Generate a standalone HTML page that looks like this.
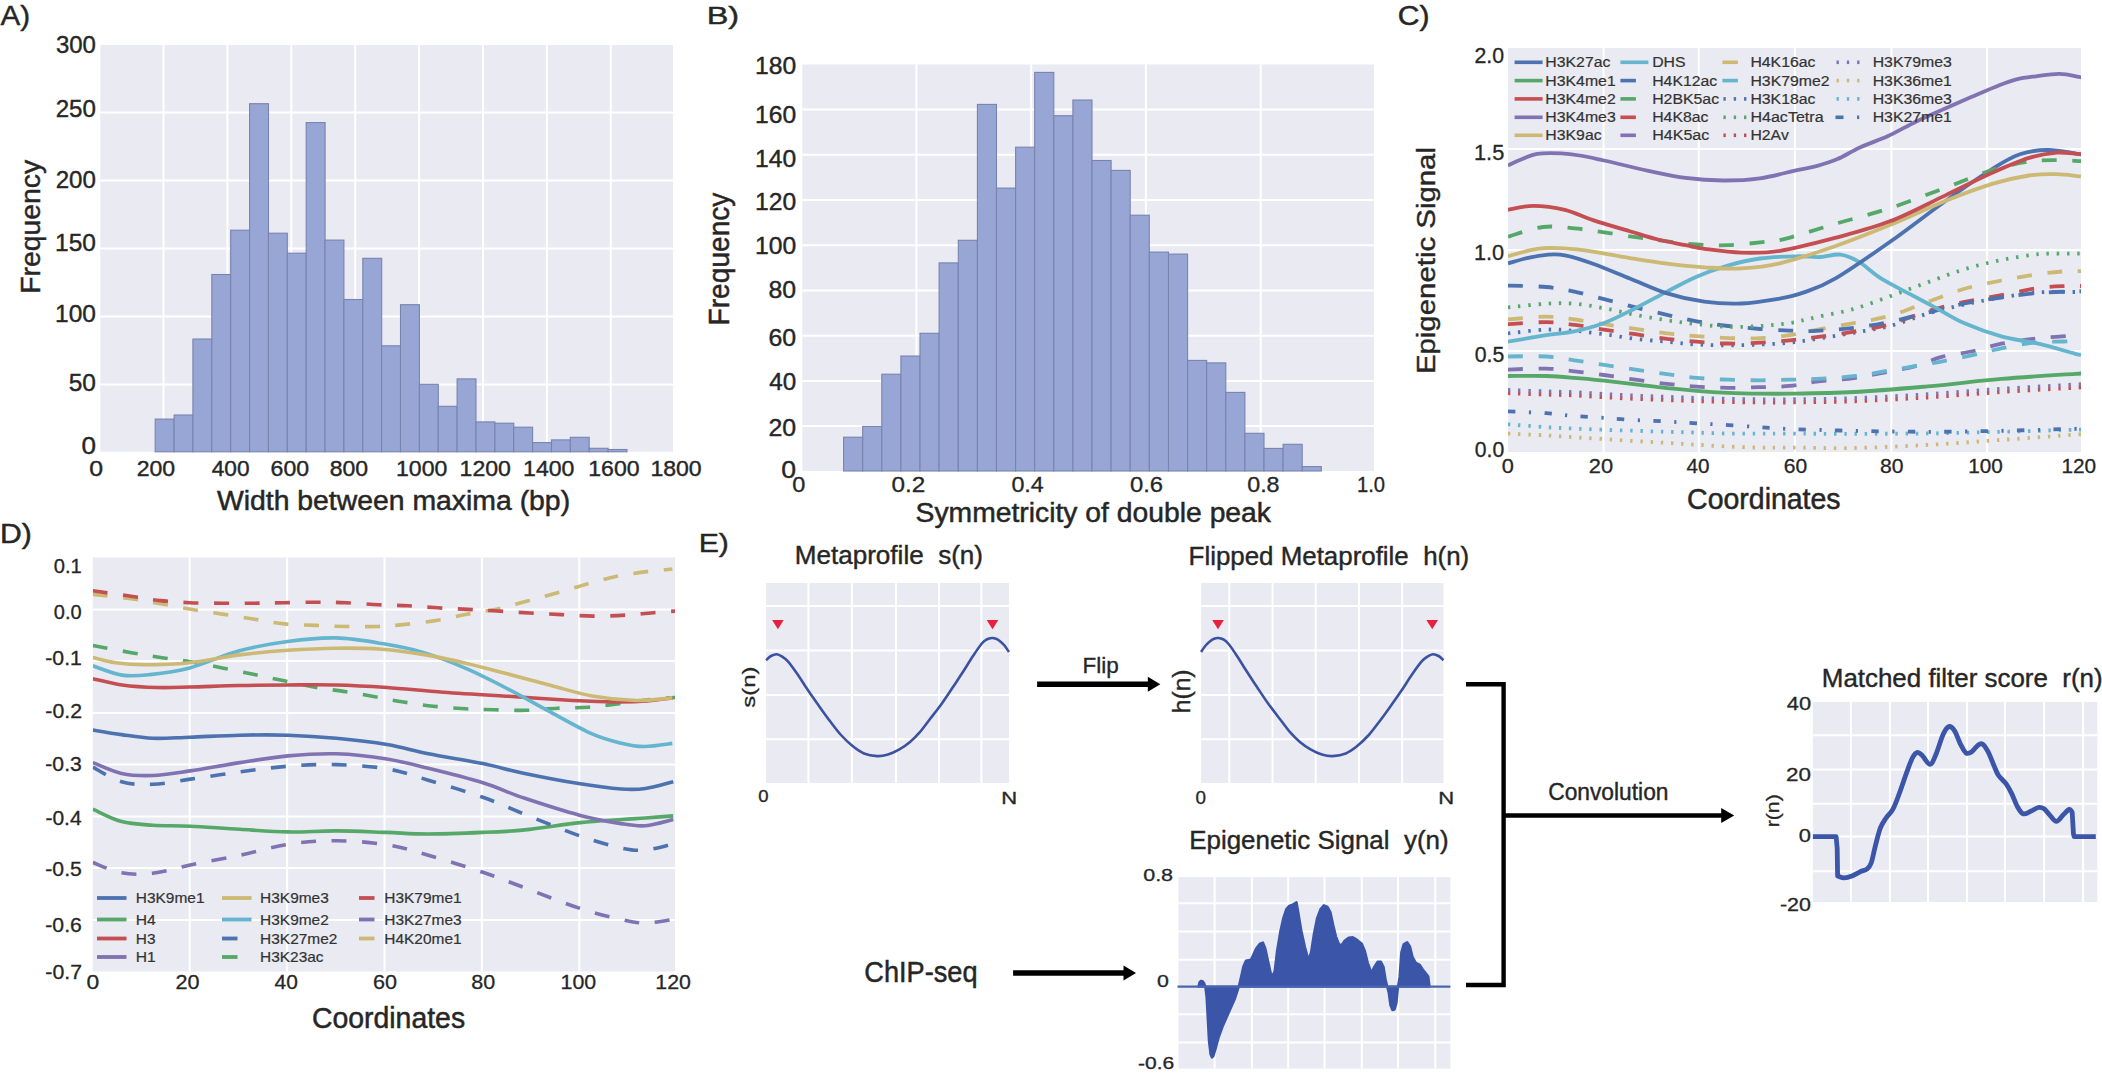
<!DOCTYPE html>
<html><head><meta charset="utf-8"><title>Figure</title>
<style>html,body{margin:0;padding:0;background:#fff;}svg{display:block;}</style>
</head><body>
<svg width="2102" height="1077" viewBox="0 0 2102 1077" font-family="'Liberation Sans', Arial, sans-serif">
<rect width="2102" height="1077" fill="#fff"/>
<defs><clipPath id="clipC"><rect x="1508" y="48" width="573" height="404"/></clipPath><clipPath id="clipD"><rect x="92.8" y="557.5" width="582.2" height="414"/></clipPath></defs>
<rect x="100.3" y="45" width="572.7" height="406.8" fill="#EAEAF2"/>
<line x1="163.5" y1="45" x2="163.5" y2="451.8" stroke="#fff" stroke-width="2"/>
<line x1="227.4" y1="45" x2="227.4" y2="451.8" stroke="#fff" stroke-width="2"/>
<line x1="291.3" y1="45" x2="291.3" y2="451.8" stroke="#fff" stroke-width="2"/>
<line x1="355.2" y1="45" x2="355.2" y2="451.8" stroke="#fff" stroke-width="2"/>
<line x1="419.1" y1="45" x2="419.1" y2="451.8" stroke="#fff" stroke-width="2"/>
<line x1="483" y1="45" x2="483" y2="451.8" stroke="#fff" stroke-width="2"/>
<line x1="546.9" y1="45" x2="546.9" y2="451.8" stroke="#fff" stroke-width="2"/>
<line x1="610.8" y1="45" x2="610.8" y2="451.8" stroke="#fff" stroke-width="2"/>
<line x1="100.3" y1="384.4" x2="673" y2="384.4" stroke="#fff" stroke-width="2"/>
<line x1="100.3" y1="316.4" x2="673" y2="316.4" stroke="#fff" stroke-width="2"/>
<line x1="100.3" y1="248.4" x2="673" y2="248.4" stroke="#fff" stroke-width="2"/>
<line x1="100.3" y1="180.4" x2="673" y2="180.4" stroke="#fff" stroke-width="2"/>
<line x1="100.3" y1="112.4" x2="673" y2="112.4" stroke="#fff" stroke-width="2"/>
<rect x="155.2" y="419.1" width="18.9" height="32.7" fill="#98A6D6" stroke="#7884AE" stroke-width="1.1"/>
<rect x="174.1" y="415" width="18.9" height="36.8" fill="#98A6D6" stroke="#7884AE" stroke-width="1.1"/>
<rect x="192.9" y="339" width="18.9" height="112.8" fill="#98A6D6" stroke="#7884AE" stroke-width="1.1"/>
<rect x="211.8" y="274.5" width="18.9" height="177.3" fill="#98A6D6" stroke="#7884AE" stroke-width="1.1"/>
<rect x="230.7" y="230.2" width="18.9" height="221.6" fill="#98A6D6" stroke="#7884AE" stroke-width="1.1"/>
<rect x="249.6" y="103.7" width="18.9" height="348.1" fill="#98A6D6" stroke="#7884AE" stroke-width="1.1"/>
<rect x="268.4" y="233.2" width="18.9" height="218.6" fill="#98A6D6" stroke="#7884AE" stroke-width="1.1"/>
<rect x="287.3" y="253.2" width="18.9" height="198.6" fill="#98A6D6" stroke="#7884AE" stroke-width="1.1"/>
<rect x="306.2" y="122.6" width="18.9" height="329.2" fill="#98A6D6" stroke="#7884AE" stroke-width="1.1"/>
<rect x="325" y="240.1" width="18.9" height="211.7" fill="#98A6D6" stroke="#7884AE" stroke-width="1.1"/>
<rect x="343.9" y="299.5" width="18.9" height="152.3" fill="#98A6D6" stroke="#7884AE" stroke-width="1.1"/>
<rect x="362.8" y="258.3" width="18.9" height="193.5" fill="#98A6D6" stroke="#7884AE" stroke-width="1.1"/>
<rect x="381.6" y="345.8" width="18.9" height="106" fill="#98A6D6" stroke="#7884AE" stroke-width="1.1"/>
<rect x="400.5" y="304.7" width="18.9" height="147.1" fill="#98A6D6" stroke="#7884AE" stroke-width="1.1"/>
<rect x="419.4" y="384.3" width="18.9" height="67.5" fill="#98A6D6" stroke="#7884AE" stroke-width="1.1"/>
<rect x="438.2" y="406.3" width="18.9" height="45.5" fill="#98A6D6" stroke="#7884AE" stroke-width="1.1"/>
<rect x="457.1" y="378.9" width="18.9" height="72.9" fill="#98A6D6" stroke="#7884AE" stroke-width="1.1"/>
<rect x="476" y="421.9" width="18.9" height="29.9" fill="#98A6D6" stroke="#7884AE" stroke-width="1.1"/>
<rect x="494.9" y="423.2" width="18.9" height="28.6" fill="#98A6D6" stroke="#7884AE" stroke-width="1.1"/>
<rect x="513.7" y="427.2" width="18.9" height="24.6" fill="#98A6D6" stroke="#7884AE" stroke-width="1.1"/>
<rect x="532.6" y="442.6" width="18.9" height="9.2" fill="#98A6D6" stroke="#7884AE" stroke-width="1.1"/>
<rect x="551.5" y="439.9" width="18.9" height="11.9" fill="#98A6D6" stroke="#7884AE" stroke-width="1.1"/>
<rect x="570.3" y="437.3" width="18.9" height="14.5" fill="#98A6D6" stroke="#7884AE" stroke-width="1.1"/>
<rect x="589.2" y="448.3" width="18.9" height="3.5" fill="#98A6D6" stroke="#7884AE" stroke-width="1.1"/>
<rect x="608.1" y="449.5" width="18.9" height="2.3" fill="#98A6D6" stroke="#7884AE" stroke-width="1.1"/>
<text x="0.6" y="24.9" font-size="28" fill="#262626" stroke="#262626" stroke-width="0.4" textLength="29.6" lengthAdjust="spacingAndGlyphs" xml:space="preserve">A)</text>
<text x="55.9" y="53.4" font-size="24.5" fill="#262626" stroke="#262626" stroke-width="0.4" textLength="40" lengthAdjust="spacingAndGlyphs" xml:space="preserve">300</text>
<text x="55.7" y="116.8" font-size="24.5" fill="#262626" stroke="#262626" stroke-width="0.4" textLength="40.2" lengthAdjust="spacingAndGlyphs" xml:space="preserve">250</text>
<text x="55.7" y="187.7" font-size="24.5" fill="#262626" stroke="#262626" stroke-width="0.4" textLength="40.2" lengthAdjust="spacingAndGlyphs" xml:space="preserve">200</text>
<text x="55.1" y="251.2" font-size="24.5" fill="#262626" stroke="#262626" stroke-width="0.4" textLength="40.9" lengthAdjust="spacingAndGlyphs" xml:space="preserve">150</text>
<text x="55.1" y="321.5" font-size="24.5" fill="#262626" stroke="#262626" stroke-width="0.4" textLength="40.9" lengthAdjust="spacingAndGlyphs" xml:space="preserve">100</text>
<text x="68.7" y="390.5" font-size="24.5" fill="#262626" stroke="#262626" stroke-width="0.4" textLength="27.2" lengthAdjust="spacingAndGlyphs" xml:space="preserve">50</text>
<text x="81.5" y="453.7" font-size="24.5" fill="#262626" stroke="#262626" stroke-width="0.4" textLength="14.5" lengthAdjust="spacingAndGlyphs" xml:space="preserve">0</text>
<text x="89.3" y="476" font-size="22.4" fill="#262626" stroke="#262626" stroke-width="0.4" textLength="13.8" lengthAdjust="spacingAndGlyphs" xml:space="preserve">0</text>
<text x="136.7" y="476" font-size="22.4" fill="#262626" stroke="#262626" stroke-width="0.4" textLength="38.5" lengthAdjust="spacingAndGlyphs" xml:space="preserve">200</text>
<text x="211.7" y="476" font-size="22.4" fill="#262626" stroke="#262626" stroke-width="0.4" textLength="37.8" lengthAdjust="spacingAndGlyphs" xml:space="preserve">400</text>
<text x="270.6" y="476" font-size="22.4" fill="#262626" stroke="#262626" stroke-width="0.4" textLength="38.5" lengthAdjust="spacingAndGlyphs" xml:space="preserve">600</text>
<text x="329.7" y="476" font-size="22.4" fill="#262626" stroke="#262626" stroke-width="0.4" textLength="38.4" lengthAdjust="spacingAndGlyphs" xml:space="preserve">800</text>
<text x="396" y="476" font-size="22.4" fill="#262626" stroke="#262626" stroke-width="0.4" textLength="51.3" lengthAdjust="spacingAndGlyphs" xml:space="preserve">1000</text>
<text x="459.6" y="476" font-size="22.4" fill="#262626" stroke="#262626" stroke-width="0.4" textLength="51.3" lengthAdjust="spacingAndGlyphs" xml:space="preserve">1200</text>
<text x="523.1" y="476" font-size="22.4" fill="#262626" stroke="#262626" stroke-width="0.4" textLength="51.3" lengthAdjust="spacingAndGlyphs" xml:space="preserve">1400</text>
<text x="588.3" y="476" font-size="22.4" fill="#262626" stroke="#262626" stroke-width="0.4" textLength="51.3" lengthAdjust="spacingAndGlyphs" xml:space="preserve">1600</text>
<text x="650.4" y="476" font-size="22.4" fill="#262626" stroke="#262626" stroke-width="0.4" textLength="51.3" lengthAdjust="spacingAndGlyphs" xml:space="preserve">1800</text>
<text x="216.9" y="510.2" font-size="28.2" fill="#262626" stroke="#262626" stroke-width="0.5" textLength="353.2" lengthAdjust="spacingAndGlyphs" xml:space="preserve">Width between maxima (bp)</text>
<text x="39.7" y="293.8" font-size="27.8" fill="#262626" stroke="#262626" stroke-width="0.4" textLength="134" lengthAdjust="spacingAndGlyphs" transform="rotate(-90 39.7 293.8)" xml:space="preserve">Frequency</text>
<rect x="802.3" y="64.5" width="571.7" height="406.5" fill="#EAEAF2"/>
<line x1="916.4" y1="64.5" x2="916.4" y2="471" stroke="#fff" stroke-width="2"/>
<line x1="1031.2" y1="64.5" x2="1031.2" y2="471" stroke="#fff" stroke-width="2"/>
<line x1="1145.9" y1="64.5" x2="1145.9" y2="471" stroke="#fff" stroke-width="2"/>
<line x1="1260.7" y1="64.5" x2="1260.7" y2="471" stroke="#fff" stroke-width="2"/>
<line x1="802.3" y1="426.1" x2="1374" y2="426.1" stroke="#fff" stroke-width="2"/>
<line x1="802.3" y1="380.9" x2="1374" y2="380.9" stroke="#fff" stroke-width="2"/>
<line x1="802.3" y1="335.7" x2="1374" y2="335.7" stroke="#fff" stroke-width="2"/>
<line x1="802.3" y1="290.5" x2="1374" y2="290.5" stroke="#fff" stroke-width="2"/>
<line x1="802.3" y1="245.3" x2="1374" y2="245.3" stroke="#fff" stroke-width="2"/>
<line x1="802.3" y1="200" x2="1374" y2="200" stroke="#fff" stroke-width="2"/>
<line x1="802.3" y1="154.8" x2="1374" y2="154.8" stroke="#fff" stroke-width="2"/>
<line x1="802.3" y1="109.6" x2="1374" y2="109.6" stroke="#fff" stroke-width="2"/>
<rect x="843.6" y="437.2" width="19.1" height="33.8" fill="#98A6D6" stroke="#7884AE" stroke-width="1.1"/>
<rect x="862.7" y="426.4" width="19.1" height="44.6" fill="#98A6D6" stroke="#7884AE" stroke-width="1.1"/>
<rect x="881.8" y="374.2" width="19.1" height="96.8" fill="#98A6D6" stroke="#7884AE" stroke-width="1.1"/>
<rect x="900.9" y="356" width="19.1" height="115" fill="#98A6D6" stroke="#7884AE" stroke-width="1.1"/>
<rect x="920" y="333.3" width="19.1" height="137.7" fill="#98A6D6" stroke="#7884AE" stroke-width="1.1"/>
<rect x="939.1" y="262.9" width="19.1" height="208.1" fill="#98A6D6" stroke="#7884AE" stroke-width="1.1"/>
<rect x="958.3" y="240.3" width="19.1" height="230.7" fill="#98A6D6" stroke="#7884AE" stroke-width="1.1"/>
<rect x="977.4" y="104.4" width="19.1" height="366.6" fill="#98A6D6" stroke="#7884AE" stroke-width="1.1"/>
<rect x="996.5" y="188.1" width="19.1" height="282.9" fill="#98A6D6" stroke="#7884AE" stroke-width="1.1"/>
<rect x="1015.6" y="147.2" width="19.1" height="323.8" fill="#98A6D6" stroke="#7884AE" stroke-width="1.1"/>
<rect x="1034.7" y="72.4" width="19.1" height="398.6" fill="#98A6D6" stroke="#7884AE" stroke-width="1.1"/>
<rect x="1053.8" y="115.7" width="19.1" height="355.3" fill="#98A6D6" stroke="#7884AE" stroke-width="1.1"/>
<rect x="1072.9" y="100" width="19.1" height="371" fill="#98A6D6" stroke="#7884AE" stroke-width="1.1"/>
<rect x="1092" y="160.5" width="19.1" height="310.5" fill="#98A6D6" stroke="#7884AE" stroke-width="1.1"/>
<rect x="1111.1" y="170.4" width="19.1" height="300.6" fill="#98A6D6" stroke="#7884AE" stroke-width="1.1"/>
<rect x="1130.2" y="215.2" width="19.1" height="255.8" fill="#98A6D6" stroke="#7884AE" stroke-width="1.1"/>
<rect x="1149.4" y="252.1" width="19.1" height="218.9" fill="#98A6D6" stroke="#7884AE" stroke-width="1.1"/>
<rect x="1168.5" y="254.1" width="19.1" height="216.9" fill="#98A6D6" stroke="#7884AE" stroke-width="1.1"/>
<rect x="1187.6" y="360.4" width="19.1" height="110.6" fill="#98A6D6" stroke="#7884AE" stroke-width="1.1"/>
<rect x="1206.7" y="362.9" width="19.1" height="108.1" fill="#98A6D6" stroke="#7884AE" stroke-width="1.1"/>
<rect x="1225.8" y="392.4" width="19.1" height="78.6" fill="#98A6D6" stroke="#7884AE" stroke-width="1.1"/>
<rect x="1244.9" y="433.3" width="19.1" height="37.7" fill="#98A6D6" stroke="#7884AE" stroke-width="1.1"/>
<rect x="1264" y="448.4" width="19.1" height="22.6" fill="#98A6D6" stroke="#7884AE" stroke-width="1.1"/>
<rect x="1283.1" y="444.3" width="19.1" height="26.7" fill="#98A6D6" stroke="#7884AE" stroke-width="1.1"/>
<rect x="1302.2" y="466.6" width="19.1" height="4.4" fill="#98A6D6" stroke="#7884AE" stroke-width="1.1"/>
<text x="706.7" y="23.8" font-size="24.8" fill="#262626" stroke="#262626" stroke-width="0.4" textLength="32.5" lengthAdjust="spacingAndGlyphs" xml:space="preserve">B)</text>
<text x="755.1" y="74.1" font-size="23" fill="#262626" stroke="#262626" stroke-width="0.4" textLength="41.1" lengthAdjust="spacingAndGlyphs" xml:space="preserve">180</text>
<text x="755.1" y="122.8" font-size="23" fill="#262626" stroke="#262626" stroke-width="0.4" textLength="41.1" lengthAdjust="spacingAndGlyphs" xml:space="preserve">160</text>
<text x="755.1" y="166.9" font-size="23" fill="#262626" stroke="#262626" stroke-width="0.4" textLength="41.1" lengthAdjust="spacingAndGlyphs" xml:space="preserve">140</text>
<text x="755.1" y="209.9" font-size="23" fill="#262626" stroke="#262626" stroke-width="0.4" textLength="41.1" lengthAdjust="spacingAndGlyphs" xml:space="preserve">120</text>
<text x="755.1" y="254.4" font-size="23" fill="#262626" stroke="#262626" stroke-width="0.4" textLength="41.1" lengthAdjust="spacingAndGlyphs" xml:space="preserve">100</text>
<text x="768.5" y="297.9" font-size="23" fill="#262626" stroke="#262626" stroke-width="0.4" textLength="27.6" lengthAdjust="spacingAndGlyphs" xml:space="preserve">80</text>
<text x="768.4" y="346.4" font-size="23" fill="#262626" stroke="#262626" stroke-width="0.4" textLength="27.7" lengthAdjust="spacingAndGlyphs" xml:space="preserve">60</text>
<text x="769.2" y="389.5" font-size="23" fill="#262626" stroke="#262626" stroke-width="0.4" textLength="26.9" lengthAdjust="spacingAndGlyphs" xml:space="preserve">40</text>
<text x="768.4" y="436.4" font-size="23" fill="#262626" stroke="#262626" stroke-width="0.4" textLength="27.7" lengthAdjust="spacingAndGlyphs" xml:space="preserve">20</text>
<text x="781.3" y="477.8" font-size="23" fill="#262626" stroke="#262626" stroke-width="0.4" textLength="14.8" lengthAdjust="spacingAndGlyphs" xml:space="preserve">0</text>
<text x="792.3" y="492.4" font-size="21.7" fill="#262626" stroke="#262626" stroke-width="0.3" textLength="13.1" lengthAdjust="spacingAndGlyphs" xml:space="preserve">0</text>
<text x="891.6" y="492.4" font-size="21.7" fill="#262626" stroke="#262626" stroke-width="0.3" textLength="33.8" lengthAdjust="spacingAndGlyphs" xml:space="preserve">0.2</text>
<text x="1011.4" y="492.4" font-size="21.7" fill="#262626" stroke="#262626" stroke-width="0.3" textLength="32.4" lengthAdjust="spacingAndGlyphs" xml:space="preserve">0.4</text>
<text x="1130" y="492.4" font-size="21.7" fill="#262626" stroke="#262626" stroke-width="0.3" textLength="33.1" lengthAdjust="spacingAndGlyphs" xml:space="preserve">0.6</text>
<text x="1247.2" y="492.4" font-size="21.7" fill="#262626" stroke="#262626" stroke-width="0.3" textLength="32.4" lengthAdjust="spacingAndGlyphs" xml:space="preserve">0.8</text>
<text x="1357" y="492.4" font-size="21.7" fill="#262626" stroke="#262626" stroke-width="0.3" textLength="28.1" lengthAdjust="spacingAndGlyphs" xml:space="preserve">1.0</text>
<text x="915.6" y="521.5" font-size="28.4" fill="#262626" stroke="#262626" stroke-width="0.5" textLength="355.4" lengthAdjust="spacingAndGlyphs" xml:space="preserve">Symmetricity of double peak</text>
<text x="728.9" y="325.4" font-size="28.6" fill="#262626" stroke="#262626" stroke-width="0.5" textLength="132.8" lengthAdjust="spacingAndGlyphs" transform="rotate(-90 728.9 325.4)" xml:space="preserve">Frequency</text>
<rect x="1508" y="48" width="573" height="404" fill="#EAEAF2"/>
<line x1="1603.6" y1="48" x2="1603.6" y2="452" stroke="#fff" stroke-width="2"/>
<line x1="1698.8" y1="48" x2="1698.8" y2="452" stroke="#fff" stroke-width="2"/>
<line x1="1794.9" y1="48" x2="1794.9" y2="452" stroke="#fff" stroke-width="2"/>
<line x1="1891.4" y1="48" x2="1891.4" y2="452" stroke="#fff" stroke-width="2"/>
<line x1="1987.1" y1="48" x2="1987.1" y2="452" stroke="#fff" stroke-width="2"/>
<line x1="1508" y1="351" x2="2081" y2="351" stroke="#fff" stroke-width="2"/>
<line x1="1508" y1="250" x2="2081" y2="250" stroke="#fff" stroke-width="2"/>
<line x1="1508" y1="149" x2="2081" y2="149" stroke="#fff" stroke-width="2"/>
<g clip-path="url(#clipC)">
<path d="M1508,433.6 C1514.4,433.9 1535.1,434.8 1546.2,435.4 C1557.3,436 1564.7,436.6 1574.4,437.3 C1584,437.9 1593.8,438.4 1604,439.1 C1614.2,439.7 1625,440.5 1635.5,441.1 C1646,441.7 1656.8,442.3 1667,442.9 C1677.2,443.5 1686.4,444.1 1696.6,444.7 C1706.8,445.3 1717.5,446.1 1728.1,446.5 C1738.7,447 1749.9,447.4 1760.1,447.6 C1770.4,447.7 1774.1,447.5 1789.7,447.6 C1805.3,447.6 1830.7,448.4 1853.7,448 C1876.7,447.5 1903.1,446.3 1927.7,444.9 C1952.3,443.6 1976.7,441.6 2001.3,439.9 C2025.8,438.2 2062,435.5 2075.3,434.6 C2088.6,433.7 2080,434.5 2081,434.4" fill="none" stroke="#CCB974" stroke-width="3.8" stroke-dasharray="2.4 7.8"/>
<path d="M1508,424.3 C1514.4,424.8 1535.1,426.4 1546.2,427.2 C1557.3,427.9 1564.7,428.1 1574.4,428.6 C1584,429 1593.8,429.4 1604,429.8 C1614.2,430.2 1625,430.5 1635.5,430.8 C1646,431.1 1656.8,431.5 1667,431.8 C1677.2,432.1 1686.4,432.3 1696.6,432.6 C1706.8,432.9 1717.5,433.4 1728.1,433.6 C1738.7,433.8 1749.9,433.6 1760.1,433.6 C1770.4,433.6 1774.1,433.6 1789.7,433.6 C1805.3,433.7 1830.7,433.9 1853.7,433.8 C1876.7,433.8 1903.1,433.8 1927.7,433.4 C1952.3,433.1 1976.7,432.4 2001.3,431.8 C2025.8,431.2 2062,430.1 2075.3,429.8 C2088.6,429.4 2080,429.8 2081,429.8" fill="none" stroke="#64B5CD" stroke-width="3.8" stroke-dasharray="2.4 7.8"/>
<path d="M1508,411.4 C1514.4,411.7 1535.1,412.4 1546.2,413.2 C1557.3,414 1564.7,415.3 1574.4,416 C1584,416.8 1593.8,417.2 1604,417.9 C1614.2,418.5 1625,419.5 1635.5,420.1 C1646,420.7 1656.8,421 1667,421.5 C1677.2,422 1686.4,422.7 1696.6,423.3 C1706.8,423.9 1717.5,424.5 1728.1,425.1 C1738.7,425.8 1749.9,426.5 1760.1,427.2 C1770.4,427.8 1774.1,428.4 1789.7,429 C1805.3,429.6 1830.7,430.3 1853.7,430.8 C1876.7,431.3 1903.1,431.8 1927.7,431.8 C1952.3,431.8 1976.7,431.3 2001.3,430.8 C2025.8,430.3 2062,429.1 2075.3,428.8 C2088.6,428.4 2080,428.6 2081,428.6" fill="none" stroke="#4C72B0" stroke-width="3.8" stroke-dasharray="7.4 13.5 2.2 13.3"/>
<path d="M1508,393.2 C1514.4,393.5 1535.1,394.3 1546.2,394.6 C1557.3,395 1564.7,395 1574.4,395.4 C1584,395.9 1593.8,396.7 1604,397.3 C1614.2,397.8 1625,398.4 1635.5,398.9 C1646,399.3 1656.8,399.7 1667,400.1 C1677.2,400.5 1686.4,400.8 1696.6,401.1 C1706.8,401.4 1717.5,401.9 1728.1,402.1 C1738.7,402.3 1749.9,402.4 1760.1,402.5 C1770.4,402.6 1774.1,402.7 1789.7,402.5 C1805.3,402.3 1830.7,402.1 1853.7,401.3 C1876.7,400.5 1903.1,399 1927.7,397.5 C1952.3,395.9 1976.7,393.6 2001.3,392 C2025.8,390.4 2062,388.5 2075.3,387.8 C2088.6,387 2080,387.6 2081,387.6" fill="none" stroke="#C44E52" stroke-width="3.8" stroke-dasharray="2.4 7.8"/>
<path d="M1508,390 C1514.4,390.2 1535.1,391 1546.2,391.4 C1557.3,391.8 1564.7,391.8 1574.4,392.2 C1584,392.6 1593.8,393.5 1604,394 C1614.2,394.6 1625,395.2 1635.5,395.6 C1646,396.1 1656.8,396.5 1667,396.9 C1677.2,397.2 1686.4,397.5 1696.6,397.9 C1706.8,398.2 1717.5,398.6 1728.1,398.9 C1738.7,399.1 1749.9,399.2 1760.1,399.3 C1770.4,399.3 1774.1,399.5 1789.7,399.3 C1805.3,399.1 1830.7,398.9 1853.7,398.1 C1876.7,397.2 1903.1,395.8 1927.7,394.2 C1952.3,392.7 1976.7,390.4 2001.3,388.8 C2025.8,387.2 2062,385.3 2075.3,384.5 C2088.6,383.8 2080,384.4 2081,384.3" fill="none" stroke="#8172B2" stroke-width="3.8" stroke-dasharray="2.4 7.8"/>
<path d="M1508,376 C1514.4,376 1535.1,375.7 1546.2,376 C1557.3,376.4 1564.7,377.1 1574.4,377.9 C1584,378.6 1593.8,379.6 1604,380.7 C1614.2,381.8 1625,383.1 1635.5,384.3 C1646,385.6 1656.8,387.1 1667,388.2 C1677.2,389.2 1686.4,390 1696.6,390.8 C1706.8,391.6 1717.5,392.3 1728.1,392.8 C1738.7,393.3 1749.9,393.5 1760.1,393.6 C1770.4,393.8 1774.1,393.9 1789.7,393.6 C1805.3,393.4 1830.7,393.2 1853.7,392 C1876.7,390.8 1903.1,388.5 1927.7,386.4 C1952.3,384.2 1976.7,381 2001.3,378.9 C2025.8,376.8 2062,374.7 2075.3,373.8 C2088.6,373 2080,373.7 2081,373.6" fill="none" stroke="#55A868" stroke-width="3.8"/>
<path d="M1508,369.6 C1514.4,369.4 1535.1,368.3 1546.2,368.6 C1557.3,368.9 1564.7,370.3 1574.4,371.4 C1584,372.5 1593.8,373.7 1604,375 C1614.2,376.4 1625,378.2 1635.5,379.7 C1646,381.2 1656.8,382.8 1667,383.9 C1677.2,385.1 1686.4,385.9 1696.6,386.6 C1706.8,387.2 1717.5,387.7 1728.1,387.8 C1738.7,387.9 1749.9,387.5 1760.1,387.2 C1770.4,386.9 1780.3,386.9 1789.7,385.9 C1799.1,385 1805.8,383 1816.5,381.7 C1827.1,380.4 1842.2,379.6 1853.7,378.1 C1865.2,376.5 1874.8,374.4 1885.2,372.4 C1895.7,370.4 1906.7,368.6 1916.3,365.9 C1925.8,363.3 1933,359.1 1942.5,356.7 C1952.1,354.2 1963.8,353.2 1973.6,351 C1983.4,348.8 1991.3,345.7 2001.3,343.7 C2011.2,341.7 2023.1,340.1 2033.2,338.9 C2043.4,337.6 2053.9,336.8 2061.9,336.3 C2069.9,335.7 2077.8,335.9 2081,335.9" fill="none" stroke="#8172B2" stroke-width="3.8" stroke-dasharray="15 15.5"/>
<path d="M1508,356.5 C1514.4,356.5 1535.1,355.8 1546.2,356.5 C1557.3,357.1 1564.7,358.9 1574.4,360.3 C1584,361.7 1593.8,363.4 1604,364.9 C1614.2,366.5 1625,368 1635.5,369.6 C1646,371.1 1656.8,372.8 1667,374.2 C1677.2,375.6 1686.4,377 1696.6,377.9 C1706.8,378.8 1717.5,379.3 1728.1,379.7 C1738.7,380.1 1749.9,380.3 1760.1,380.3 C1770.4,380.3 1780.3,379.9 1789.7,379.7 C1799.1,379.4 1805.8,379.4 1816.5,378.9 C1827.1,378.3 1842.2,377.5 1853.7,376.2 C1865.2,375 1874.8,372.9 1885.2,371.2 C1895.7,369.5 1906.7,367.6 1916.3,365.9 C1925.8,364.3 1933,363.2 1942.5,361.3 C1952.1,359.5 1963.8,357 1973.6,354.8 C1983.4,352.7 1991.3,350.4 2001.3,348.4 C2011.2,346.4 2023.1,343.9 2033.2,342.7 C2043.4,341.6 2053.9,341.8 2061.9,341.5 C2069.9,341.2 2077.8,341 2081,340.9" fill="none" stroke="#64B5CD" stroke-width="3.8" stroke-dasharray="15 15.5"/>
<path d="M1508,333.4 C1514.4,332.8 1535.1,330 1546.2,329.6 C1557.3,329.2 1564.7,330 1574.4,330.8 C1584,331.6 1593.8,332.9 1604,334.2 C1614.2,335.6 1625,337.6 1635.5,338.9 C1646,340.1 1656.8,340.8 1667,341.7 C1677.2,342.7 1686.4,343.9 1696.6,344.5 C1706.8,345.1 1717.5,345.3 1728.1,345.3 C1738.7,345.3 1749.9,345 1760.1,344.5 C1770.4,344.1 1780.3,343.7 1789.7,342.7 C1799.1,341.8 1805.8,340.5 1816.5,338.9 C1827.1,337.2 1841.4,335 1853.7,332.8 C1866,330.6 1878.1,328.9 1890.5,325.8 C1902.8,322.6 1915.4,317.2 1927.7,313.6 C1940.1,310.1 1952.2,307.2 1964.5,304.5 C1976.7,301.8 1988.9,299.5 2001.3,297.5 C2013.6,295.5 2026.2,293.3 2038.5,292.4 C2050.8,291.5 2068.2,292.1 2075.3,292 C2082.4,291.9 2080,292 2081,292" fill="none" stroke="#4C72B0" stroke-width="3.8" stroke-dasharray="2.4 7.8"/>
<path d="M1508,324.1 C1514.4,323.8 1535.1,322 1546.2,322.1 C1557.3,322.2 1564.7,323.7 1574.4,324.9 C1584,326.2 1593.8,328 1604,329.6 C1614.2,331.1 1625,332.7 1635.5,334.2 C1646,335.8 1656.8,337.6 1667,338.9 C1677.2,340.1 1686.4,340.9 1696.6,341.7 C1706.8,342.5 1717.5,343.4 1728.1,343.5 C1738.7,343.7 1749.9,343.3 1760.1,342.7 C1770.4,342.2 1780.3,341.2 1789.7,340.3 C1799.1,339.4 1805.8,338.5 1816.5,337.1 C1827.1,335.6 1841.4,333.8 1853.7,331.6 C1866,329.5 1878.1,327.5 1890.5,324.1 C1902.8,320.7 1915.4,314.9 1927.7,311.2 C1940.1,307.5 1952.2,304.6 1964.5,301.9 C1976.7,299.3 1988.9,297.6 2001.3,295.2 C2013.6,292.9 2027.7,289.5 2038.5,288 C2049.3,286.4 2059.1,286.3 2066.2,286 C2073.3,285.6 2078.5,286 2081,286" fill="none" stroke="#C44E52" stroke-width="3.8" stroke-dasharray="15 15.5"/>
<path d="M1508,319.5 C1514.4,319 1535.1,316.7 1546.2,316.7 C1557.3,316.7 1564.7,318.2 1574.4,319.5 C1584,320.7 1593.8,322.6 1604,324.1 C1614.2,325.7 1625,327.2 1635.5,328.8 C1646,330.3 1656.8,332.2 1667,333.4 C1677.2,334.6 1686.4,335.3 1696.6,336.1 C1706.8,336.8 1717.5,337.7 1728.1,338.1 C1738.7,338.4 1749.9,338.5 1760.1,338.1 C1770.4,337.6 1780.3,336.6 1789.7,335.2 C1799.1,333.9 1805.8,331.8 1816.5,329.8 C1827.1,327.8 1841.4,325.5 1853.7,323.1 C1866,320.8 1878.1,319.2 1890.5,315.6 C1902.8,312.1 1915.4,306.4 1927.7,301.9 C1940.1,297.4 1952.2,292.4 1964.5,288.8 C1976.7,285.2 1988.9,283 2001.3,280.5 C2013.6,278 2027.7,275.6 2038.5,274 C2049.3,272.5 2059.1,271.7 2066.2,271.2 C2073.3,270.7 2078.5,271.2 2081,271.2" fill="none" stroke="#CCB974" stroke-width="3.8" stroke-dasharray="15 15.5"/>
<path d="M1508,285.6 C1514.4,285.8 1535.1,286 1546.2,287 C1557.3,288 1564.7,289.6 1574.4,291.6 C1584,293.6 1593.8,296.5 1604,299.1 C1614.2,301.7 1625,304.7 1635.5,307.4 C1646,310 1656.8,312.5 1667,314.8 C1677.2,317.2 1686.4,319.5 1696.6,321.3 C1706.8,323.2 1717.5,324.7 1728.1,326 C1738.7,327.2 1749.9,328.2 1760.1,329 C1770.4,329.8 1780.3,330.3 1789.7,330.6 C1799.1,330.9 1805.8,331.3 1816.5,330.8 C1827.1,330.3 1841.4,329.3 1853.7,327.8 C1866,326.3 1878.1,324.2 1890.5,321.7 C1902.8,319.2 1915.4,315.7 1927.7,312.6 C1940.1,309.6 1952.2,306.1 1964.5,303.5 C1976.7,301 1988.9,299.2 2001.3,297.5 C2013.6,295.7 2026.2,294 2038.5,293 C2050.8,292 2068.2,291.7 2075.3,291.4 C2082.4,291.1 2080,291.4 2081,291.4" fill="none" stroke="#4C72B0" stroke-width="3.8" stroke-dasharray="15 15.5"/>
<path d="M1508,307.4 C1514.4,306.8 1535.1,304.3 1546.2,303.7 C1557.3,303.1 1564.7,303 1574.4,303.7 C1584,304.5 1593.8,306.3 1604,308.2 C1614.2,310 1625,312.8 1635.5,314.8 C1646,316.9 1656.8,318.7 1667,320.3 C1677.2,321.8 1686.4,323.1 1696.6,324.1 C1706.8,325.2 1717.5,326.5 1728.1,326.8 C1738.7,327.1 1749.9,326.6 1760.1,326 C1770.4,325.3 1780.3,324.6 1789.7,323.1 C1799.1,321.6 1805.8,319.4 1816.5,317.1 C1827.1,314.7 1841.4,312.5 1853.7,309 C1866,305.5 1878.1,300.5 1890.5,296.1 C1902.8,291.6 1915.4,286.8 1927.7,282.3 C1940.1,277.8 1952.2,272.9 1964.5,269.2 C1976.7,265.5 1988.9,262.6 2001.3,260.1 C2013.6,257.6 2026.8,255.3 2038.5,254.2 C2050.2,253.2 2064.4,253.7 2071.4,253.6 C2078.5,253.5 2079.4,253.6 2081,253.6" fill="none" stroke="#55A868" stroke-width="3.8" stroke-dasharray="2.4 7.8"/>
<path d="M1508,341.7 C1514.4,340.6 1535.1,337 1546.2,335.2 C1557.3,333.5 1564.7,333.4 1574.4,331.4 C1584,329.4 1593.8,327 1604,323.1 C1614.2,319.3 1625,313.4 1635.5,308.2 C1646,302.9 1656.8,296.9 1667,291.6 C1677.2,286.4 1686.5,281 1696.6,276.7 C1706.7,272.3 1717.1,268.6 1727.7,265.6 C1738.2,262.5 1748.6,260 1760.1,258.5 C1771.7,256.9 1787.2,256.5 1796.9,256.3 C1806.6,256 1811.1,257.3 1818.4,257.1 C1825.7,256.8 1834.1,253.8 1840.8,254.6 C1847.6,255.5 1852.2,257.9 1859,261.9 C1865.7,265.9 1873,273.4 1881.4,278.7 C1889.8,284 1899.9,288.7 1909.1,293.6 C1918.3,298.6 1927.6,303.4 1936.8,308.4 C1946,313.3 1953.7,318.7 1964.5,323.3 C1975.2,328 1988.9,332.9 2001.3,336.3 C2013.6,339.7 2026.2,340.8 2038.5,343.7 C2050.8,346.7 2068.2,351.9 2075.3,353.8 C2082.4,355.7 2080,354.8 2081,355" fill="none" stroke="#64B5CD" stroke-width="3.8"/>
<path d="M1508,263.3 C1511.2,262.5 1520.7,259.5 1527.1,258.1 C1533.5,256.7 1539.9,255.3 1546.2,254.8 C1552.5,254.4 1557,253.8 1564.8,255.3 C1572.6,256.7 1582.2,259.9 1593,263.7 C1603.8,267.6 1617.4,273.5 1629.8,278.5 C1642.1,283.4 1654.6,289.6 1667,293.4 C1679.4,297.3 1691.8,300 1704.3,301.7 C1716.7,303.4 1729.2,304 1741.5,303.5 C1753.8,303.1 1767.8,300.7 1778.3,298.9 C1788.7,297 1794.6,295.8 1804,292.4 C1813.5,289.1 1820.7,287.2 1835.1,278.7 C1849.5,270.2 1872,254.5 1890.5,241.5 C1908.9,228.5 1928.9,212.8 1945.9,200.7 C1962.8,188.6 1979.8,176.7 1992.2,169 C2004.5,161.3 2010.6,157.4 2019.9,154.3 C2029.1,151.1 2038,150.1 2047.6,150 C2057.1,149.9 2071.6,153.1 2077.2,153.8 C2082.8,154.6 2080.4,154.5 2081,154.7" fill="none" stroke="#4C72B0" stroke-width="3.8"/>
<path d="M1508,256.3 C1512.9,255 1527.7,250.1 1537.1,248.8 C1546.6,247.5 1555.5,247.9 1564.8,248.4 C1574.1,248.9 1582.2,250 1593,251.6 C1603.8,253.2 1617.4,256.1 1629.8,258.1 C1642.1,260.1 1654.6,262.2 1667,263.7 C1679.4,265.3 1691.8,266.6 1704.3,267.4 C1716.7,268.1 1728.9,269.1 1741.5,268.4 C1754.1,267.7 1764.1,267 1779.7,263.3 C1795.3,259.6 1816.6,252.6 1835.1,246.2 C1853.6,239.7 1872,232.3 1890.5,224.8 C1908.9,217.2 1928.9,207.5 1945.9,200.7 C1962.8,193.9 1978.3,188.2 1992.2,183.9 C2006,179.7 2018.2,177.1 2029,175.5 C2039.7,173.8 2048.6,174.1 2056.6,174.2 C2064.7,174.4 2073.1,175.7 2077.2,176.1 C2081.2,176.4 2080.4,176.4 2081,176.5" fill="none" stroke="#CCB974" stroke-width="3.8"/>
<path d="M1508,236.7 C1513.8,235.1 1531.8,228.4 1542.9,227 C1553.9,225.6 1563.9,227.4 1574.4,228.4 C1584.9,229.3 1595.1,231.1 1605.9,232.6 C1616.7,234.2 1629.1,236.2 1639.3,237.7 C1649.5,239.1 1657.5,240.2 1667,241.3 C1676.6,242.5 1686.4,243.9 1696.6,244.5 C1706.8,245.2 1717.5,245.5 1728.1,245.2 C1738.7,244.8 1750.6,243.4 1760.1,242.3 C1769.6,241.3 1772.5,242 1785,238.9 C1797.4,235.8 1817.5,229.1 1835.1,223.9 C1852.7,218.8 1872,214 1890.5,208 C1908.9,201.9 1928.9,193.9 1945.9,187.6 C1962.8,181.3 1978.3,174.4 1992.2,170 C2006,165.7 2018.2,163.2 2029,161.5 C2039.7,159.9 2048,160.2 2056.6,160.1 C2065.3,160 2076.9,161 2081,161.1" fill="none" stroke="#55A868" stroke-width="3.8" stroke-dasharray="15 15.5"/>
<path d="M1508,209.8 C1512.2,209.1 1523.8,205.8 1533.3,205.8 C1542.8,205.8 1554.9,207.4 1564.8,209.8 C1574.8,212.2 1582.2,216.5 1593,220.1 C1603.8,223.7 1618.9,228 1629.8,231.2 C1640.6,234.4 1648.6,237.2 1657.9,239.5 C1667.2,241.8 1677.9,243.6 1685.6,245.2 C1693.3,246.7 1694.9,247.5 1704.3,248.8 C1713.6,250 1728.8,252.3 1741.5,252.6 C1754.2,253 1764.6,253.3 1780.2,250.8 C1795.8,248.4 1816.7,242.8 1835.1,237.9 C1853.5,232.9 1872,228.3 1890.5,221.1 C1908.9,214 1928.9,203.1 1945.9,195.1 C1962.8,187 1978.3,179 1992.2,172.8 C2006,166.6 2018.2,161.3 2029,157.9 C2039.7,154.5 2048.6,153.3 2056.6,152.6 C2064.7,152 2073.1,153.6 2077.2,153.8 C2081.2,154.1 2080.4,154.2 2081,154.3" fill="none" stroke="#C44E52" stroke-width="3.8"/>
<path d="M1508,165.4 C1510.4,164.3 1517.5,161 1522.3,159.1 C1527.2,157.2 1530.6,154.8 1537.1,153.8 C1543.7,152.9 1554.4,153.2 1561.5,153.4 C1568.6,153.7 1572.5,154.3 1579.6,155.5 C1586.7,156.6 1592.5,158 1604,160.5 C1615.4,163.1 1634.8,167.9 1648.4,170.8 C1662,173.7 1673.2,176.3 1685.6,177.9 C1698,179.5 1710.5,180.4 1722.9,180.5 C1735.3,180.6 1747.8,180 1760.1,178.3 C1772.5,176.6 1787.5,172.2 1796.9,170.2 C1806.3,168.2 1809.7,168 1816.5,166.2 C1823.2,164.3 1830.2,162.2 1837.5,159.1 C1844.7,156 1851.5,151.2 1859.9,147.4 C1868.4,143.5 1878.8,140.3 1888.1,136.1 C1897.4,131.8 1906.6,126.2 1915.8,121.7 C1925,117.3 1934.2,113.3 1943.5,109.2 C1952.7,105.1 1961.9,101.1 1971.2,97.1 C1980.5,93.1 1991.8,88.1 1999.3,85.2 C2006.9,82.2 2010.5,80.8 2016.5,79.3 C2022.6,77.8 2028.5,77.2 2035.6,76.3 C2042.8,75.4 2052.3,73.8 2059.5,73.9 C2066.7,74 2075,76.3 2078.6,76.9 C2082.2,77.5 2080.6,77.2 2081,77.3" fill="none" stroke="#8172B2" stroke-width="3.8"/>
</g>
<line x1="1514.6" y1="62.3" x2="1542.6" y2="62.3" stroke="#4C72B0" stroke-width="3.6"/>
<text x="1545.3" y="67.4" font-size="15.1" fill="#333" stroke="#333" stroke-width="0.2" textLength="65.1" lengthAdjust="spacingAndGlyphs" xml:space="preserve">H3K27ac</text>
<line x1="1514.6" y1="80.6" x2="1542.6" y2="80.6" stroke="#55A868" stroke-width="3.6"/>
<text x="1545.3" y="85.7" font-size="15.1" fill="#333" stroke="#333" stroke-width="0.2" textLength="70.4" lengthAdjust="spacingAndGlyphs" xml:space="preserve">H3K4me1</text>
<line x1="1514.6" y1="98.9" x2="1542.6" y2="98.9" stroke="#C44E52" stroke-width="3.6"/>
<text x="1545.3" y="104" font-size="15.1" fill="#333" stroke="#333" stroke-width="0.2" textLength="70.4" lengthAdjust="spacingAndGlyphs" xml:space="preserve">H3K4me2</text>
<line x1="1514.6" y1="117.3" x2="1542.6" y2="117.3" stroke="#8172B2" stroke-width="3.6"/>
<text x="1545.3" y="122.4" font-size="15.1" fill="#333" stroke="#333" stroke-width="0.2" textLength="70.4" lengthAdjust="spacingAndGlyphs" xml:space="preserve">H3K4me3</text>
<line x1="1514.6" y1="135.3" x2="1542.6" y2="135.3" stroke="#CCB974" stroke-width="3.6"/>
<text x="1545.3" y="140.4" font-size="15.1" fill="#333" stroke="#333" stroke-width="0.2" textLength="56.3" lengthAdjust="spacingAndGlyphs" xml:space="preserve">H3K9ac</text>
<line x1="1620.4" y1="62.3" x2="1648.4" y2="62.3" stroke="#64B5CD" stroke-width="3.6"/>
<text x="1652.2" y="67.4" font-size="15.1" fill="#333" stroke="#333" stroke-width="0.2" textLength="33.4" lengthAdjust="spacingAndGlyphs" xml:space="preserve">DHS</text>
<line x1="1620.4" y1="80.6" x2="1635.9" y2="80.6" stroke="#4C72B0" stroke-width="3.6"/>
<text x="1652.2" y="85.7" font-size="15.1" fill="#333" stroke="#333" stroke-width="0.2" textLength="65.1" lengthAdjust="spacingAndGlyphs" xml:space="preserve">H4K12ac</text>
<line x1="1620.4" y1="98.9" x2="1635.9" y2="98.9" stroke="#55A868" stroke-width="3.6"/>
<text x="1652.2" y="104" font-size="15.1" fill="#333" stroke="#333" stroke-width="0.2" textLength="66.9" lengthAdjust="spacingAndGlyphs" xml:space="preserve">H2BK5ac</text>
<line x1="1620.4" y1="117.3" x2="1635.9" y2="117.3" stroke="#C44E52" stroke-width="3.6"/>
<text x="1652.2" y="122.4" font-size="15.1" fill="#333" stroke="#333" stroke-width="0.2" textLength="56.3" lengthAdjust="spacingAndGlyphs" xml:space="preserve">H4K8ac</text>
<line x1="1620.4" y1="135.3" x2="1635.9" y2="135.3" stroke="#8172B2" stroke-width="3.6"/>
<text x="1652.2" y="140.4" font-size="15.4" fill="#333" stroke="#333" stroke-width="0.2" textLength="57.1" lengthAdjust="spacingAndGlyphs" xml:space="preserve">H4K5ac</text>
<line x1="1722.4" y1="62.3" x2="1737.9" y2="62.3" stroke="#CCB974" stroke-width="3.6"/>
<text x="1750.4" y="67.4" font-size="15.1" fill="#333" stroke="#333" stroke-width="0.2" textLength="65.1" lengthAdjust="spacingAndGlyphs" xml:space="preserve">H4K16ac</text>
<line x1="1722.4" y1="80.6" x2="1737.9" y2="80.6" stroke="#64B5CD" stroke-width="3.6"/>
<text x="1750.4" y="85.7" font-size="15.1" fill="#333" stroke="#333" stroke-width="0.2" textLength="79.2" lengthAdjust="spacingAndGlyphs" xml:space="preserve">H3K79me2</text>
<line x1="1723.4" y1="98.9" x2="1725.8" y2="98.9" stroke="#4C72B0" stroke-width="3.6"/>
<line x1="1733.7" y1="98.9" x2="1736.1" y2="98.9" stroke="#4C72B0" stroke-width="3.6"/>
<line x1="1744" y1="98.9" x2="1746.4" y2="98.9" stroke="#4C72B0" stroke-width="3.6"/>
<text x="1750.4" y="104" font-size="15.1" fill="#333" stroke="#333" stroke-width="0.2" textLength="65.1" lengthAdjust="spacingAndGlyphs" xml:space="preserve">H3K18ac</text>
<line x1="1723.4" y1="117.3" x2="1725.8" y2="117.3" stroke="#55A868" stroke-width="3.6"/>
<line x1="1733.7" y1="117.3" x2="1736.1" y2="117.3" stroke="#55A868" stroke-width="3.6"/>
<line x1="1744" y1="117.3" x2="1746.4" y2="117.3" stroke="#55A868" stroke-width="3.6"/>
<text x="1750.4" y="122.4" font-size="15.4" fill="#333" stroke="#333" stroke-width="0.2" textLength="73.2" lengthAdjust="spacingAndGlyphs" xml:space="preserve">H4acTetra</text>
<line x1="1723.4" y1="135.3" x2="1725.8" y2="135.3" stroke="#C44E52" stroke-width="3.6"/>
<line x1="1733.7" y1="135.3" x2="1736.1" y2="135.3" stroke="#C44E52" stroke-width="3.6"/>
<line x1="1744" y1="135.3" x2="1746.4" y2="135.3" stroke="#C44E52" stroke-width="3.6"/>
<text x="1750.4" y="140.4" font-size="15.1" fill="#333" stroke="#333" stroke-width="0.2" textLength="38.4" lengthAdjust="spacingAndGlyphs" xml:space="preserve">H2Av</text>
<line x1="1836.5" y1="62.3" x2="1838.9" y2="62.3" stroke="#8172B2" stroke-width="3.6"/>
<line x1="1846.8" y1="62.3" x2="1849.2" y2="62.3" stroke="#8172B2" stroke-width="3.6"/>
<line x1="1857.1" y1="62.3" x2="1859.5" y2="62.3" stroke="#8172B2" stroke-width="3.6"/>
<text x="1872.7" y="67.4" font-size="15.1" fill="#333" stroke="#333" stroke-width="0.2" textLength="79.2" lengthAdjust="spacingAndGlyphs" xml:space="preserve">H3K79me3</text>
<line x1="1836.5" y1="80.6" x2="1838.9" y2="80.6" stroke="#CCB974" stroke-width="3.6"/>
<line x1="1846.8" y1="80.6" x2="1849.2" y2="80.6" stroke="#CCB974" stroke-width="3.6"/>
<line x1="1857.1" y1="80.6" x2="1859.5" y2="80.6" stroke="#CCB974" stroke-width="3.6"/>
<text x="1872.7" y="85.7" font-size="15.1" fill="#333" stroke="#333" stroke-width="0.2" textLength="79.2" lengthAdjust="spacingAndGlyphs" xml:space="preserve">H3K36me1</text>
<line x1="1836.5" y1="98.9" x2="1838.9" y2="98.9" stroke="#64B5CD" stroke-width="3.6"/>
<line x1="1846.8" y1="98.9" x2="1849.2" y2="98.9" stroke="#64B5CD" stroke-width="3.6"/>
<line x1="1857.1" y1="98.9" x2="1859.5" y2="98.9" stroke="#64B5CD" stroke-width="3.6"/>
<text x="1872.7" y="104" font-size="15.1" fill="#333" stroke="#333" stroke-width="0.2" textLength="79.2" lengthAdjust="spacingAndGlyphs" xml:space="preserve">H3K36me3</text>
<line x1="1835.5" y1="117.3" x2="1843.5" y2="117.3" stroke="#4C72B0" stroke-width="3.6"/>
<line x1="1857" y1="117.3" x2="1859.2" y2="117.3" stroke="#4C72B0" stroke-width="3.6"/>
<text x="1872.7" y="122.4" font-size="15.1" fill="#333" stroke="#333" stroke-width="0.2" textLength="79.2" lengthAdjust="spacingAndGlyphs" xml:space="preserve">H3K27me1</text>
<text x="1397.7" y="25.2" font-size="28.4" fill="#262626" stroke="#262626" stroke-width="0.5" textLength="31.8" lengthAdjust="spacingAndGlyphs" xml:space="preserve">C)</text>
<text x="1474.5" y="63.2" font-size="21.5" fill="#262626" stroke="#262626" stroke-width="0.3" textLength="29.6" lengthAdjust="spacingAndGlyphs" xml:space="preserve">2.0</text>
<text x="1474" y="159.8" font-size="21.9" fill="#262626" stroke="#262626" stroke-width="0.3" textLength="30.3" lengthAdjust="spacingAndGlyphs" xml:space="preserve">1.5</text>
<text x="1474" y="260.2" font-size="21.5" fill="#262626" stroke="#262626" stroke-width="0.3" textLength="30.2" lengthAdjust="spacingAndGlyphs" xml:space="preserve">1.0</text>
<text x="1474.8" y="362" font-size="21.5" fill="#262626" stroke="#262626" stroke-width="0.3" textLength="29.5" lengthAdjust="spacingAndGlyphs" xml:space="preserve">0.5</text>
<text x="1474.8" y="457.3" font-size="21.5" fill="#262626" stroke="#262626" stroke-width="0.3" textLength="29.4" lengthAdjust="spacingAndGlyphs" xml:space="preserve">0.0</text>
<text x="1501.8" y="473.4" font-size="21" fill="#262626" stroke="#262626" stroke-width="0.3" textLength="12.1" lengthAdjust="spacingAndGlyphs" xml:space="preserve">0</text>
<text x="1588.8" y="473.4" font-size="21" fill="#262626" stroke="#262626" stroke-width="0.3" textLength="24.3" lengthAdjust="spacingAndGlyphs" xml:space="preserve">20</text>
<text x="1686.4" y="473.4" font-size="21" fill="#262626" stroke="#262626" stroke-width="0.3" textLength="23" lengthAdjust="spacingAndGlyphs" xml:space="preserve">40</text>
<text x="1783.8" y="473.4" font-size="21" fill="#262626" stroke="#262626" stroke-width="0.3" textLength="23.4" lengthAdjust="spacingAndGlyphs" xml:space="preserve">60</text>
<text x="1880" y="473.4" font-size="21" fill="#262626" stroke="#262626" stroke-width="0.3" textLength="23.5" lengthAdjust="spacingAndGlyphs" xml:space="preserve">80</text>
<text x="1968.3" y="473.4" font-size="21" fill="#262626" stroke="#262626" stroke-width="0.3" textLength="34.6" lengthAdjust="spacingAndGlyphs" xml:space="preserve">100</text>
<text x="2061.4" y="473.4" font-size="21" fill="#262626" stroke="#262626" stroke-width="0.3" textLength="34.7" lengthAdjust="spacingAndGlyphs" xml:space="preserve">120</text>
<text x="1687.1" y="509.3" font-size="28.7" fill="#262626" stroke="#262626" stroke-width="0.5" textLength="153.5" lengthAdjust="spacingAndGlyphs" xml:space="preserve">Coordinates</text>
<text x="1435.1" y="374.1" font-size="26.2" fill="#262626" stroke="#262626" stroke-width="0.4" textLength="227.1" lengthAdjust="spacingAndGlyphs" transform="rotate(-90 1435.1 374.1)" xml:space="preserve">Epigenetic Signal</text>
<rect x="92.8" y="557.5" width="582.2" height="414" fill="#EAEAF2"/>
<line x1="189.7" y1="557.5" x2="189.7" y2="971.5" stroke="#fff" stroke-width="2"/>
<line x1="287.1" y1="557.5" x2="287.1" y2="971.5" stroke="#fff" stroke-width="2"/>
<line x1="384.5" y1="557.5" x2="384.5" y2="971.5" stroke="#fff" stroke-width="2"/>
<line x1="481.9" y1="557.5" x2="481.9" y2="971.5" stroke="#fff" stroke-width="2"/>
<line x1="579.3" y1="557.5" x2="579.3" y2="971.5" stroke="#fff" stroke-width="2"/>
<line x1="92.8" y1="609.4" x2="675" y2="609.4" stroke="#fff" stroke-width="2"/>
<line x1="92.8" y1="661.1" x2="675" y2="661.1" stroke="#fff" stroke-width="2"/>
<line x1="92.8" y1="712.9" x2="675" y2="712.9" stroke="#fff" stroke-width="2"/>
<line x1="92.8" y1="764.6" x2="675" y2="764.6" stroke="#fff" stroke-width="2"/>
<line x1="92.8" y1="816.4" x2="675" y2="816.4" stroke="#fff" stroke-width="2"/>
<line x1="92.8" y1="868.1" x2="675" y2="868.1" stroke="#fff" stroke-width="2"/>
<line x1="92.8" y1="919.9" x2="675" y2="919.9" stroke="#fff" stroke-width="2"/>
<g clip-path="url(#clipD)">
<path d="M92.8,862.5 C97.6,864.2 111.5,871 121.5,872.8 C131.5,874.6 141.2,874.6 152.7,873.3 C164.1,872 175.7,868.1 190.2,865 C204.7,862 223.5,858.7 239.9,855.2 C256.2,851.8 272,846.8 288.1,844.3 C304.1,841.9 319.8,840.6 336.3,840.7 C352.8,840.8 371.6,842.4 386.9,844.9 C402.3,847.3 412.3,850.6 428.3,855.2 C444.3,859.8 466.8,866.9 482.9,872.3 C498.9,877.7 508.5,881.8 524.8,887.8 C541,893.9 564.2,903.3 580.3,908.5 C596.3,913.8 610.3,917 621.2,919.4 C632.1,921.8 636.8,923 645.5,923 C654.2,923 668.7,920 673.3,919.4" fill="none" stroke="#8172B2" stroke-width="3.6" stroke-dasharray="15 15.5"/>
<path d="M92.8,809.2 C97.6,811.2 111.5,818.9 121.5,821.6 C131.5,824.2 141.2,824.4 152.7,825.2 C164.1,826 175.7,825.5 190.2,826.2 C204.7,826.9 223.5,828.4 239.9,829.3 C256.2,830.3 272,831.7 288.1,831.9 C304.1,832.2 319.8,830.8 336.3,830.9 C352.8,831 371.6,831.9 386.9,832.4 C402.3,833 412.3,834 428.3,834 C444.3,834 466.8,833.1 482.9,832.4 C498.9,831.8 508.5,831.5 524.8,829.9 C541,828.2 564.2,824.3 580.3,822.6 C596.3,820.9 610.3,820.3 621.2,819.5 C632.1,818.7 636.8,818.6 645.5,818 C654.2,817.3 668.7,816.2 673.3,815.9" fill="none" stroke="#55A868" stroke-width="3.6"/>
<path d="M92.8,767.2 C97.6,769.7 111.5,778.9 121.5,781.7 C131.5,784.6 141.2,784.7 152.7,784.3 C164.1,783.9 175.7,781.2 190.2,779.1 C204.7,777.1 223.5,774.1 239.9,771.9 C256.2,769.7 272,767.4 288.1,766.2 C304.1,765 319.8,764.2 336.3,764.6 C352.8,765.1 371.6,766.2 386.9,768.8 C402.3,771.4 412.3,775.4 428.3,780.2 C444.3,784.9 466.8,791.6 482.9,797.3 C498.9,802.9 508.5,807.9 524.8,814.3 C541,820.8 564.2,830.5 580.3,836.1 C596.3,841.7 610.3,845.6 621.2,848 C632.1,850.3 636.8,850.7 645.5,850 C654.2,849.3 668.7,844.9 673.3,843.8" fill="none" stroke="#4C72B0" stroke-width="3.6" stroke-dasharray="15 15.5"/>
<path d="M92.8,762.6 C97.6,764.4 111.5,771.3 121.5,773.4 C131.5,775.6 141.2,775.9 152.7,775.5 C164.1,775.1 175.7,773 190.2,770.9 C204.7,768.7 223.5,765.1 239.9,762.6 C256.2,760.1 272,757.3 288.1,755.9 C304.1,754.4 319.8,753.3 336.3,753.8 C352.8,754.3 371.6,756.5 386.9,759 C402.3,761.4 412.3,764.3 428.3,768.3 C444.3,772.2 466.8,777.8 482.9,782.8 C498.9,787.8 508.5,792.9 524.8,798.3 C541,803.7 564.2,811.1 580.3,815.4 C596.3,819.6 610.3,821.9 621.2,823.6 C632.1,825.4 636.8,826.4 645.5,825.7 C654.2,825 668.7,820.5 673.3,819.5" fill="none" stroke="#8172B2" stroke-width="3.6"/>
<path d="M92.8,730 C97.6,730.8 111.5,733.3 121.5,734.6 C131.5,736 141.2,737.8 152.7,738.3 C164.1,738.7 175.7,737.7 190.2,737.2 C204.7,736.7 223.5,735.5 239.9,735.2 C256.2,734.8 272,734.6 288.1,735.2 C304.1,735.7 319.8,736.7 336.3,738.3 C352.8,739.8 371.6,741.9 386.9,744.5 C402.3,747.1 412.3,750.6 428.3,753.8 C444.3,757 466.8,760.3 482.9,763.6 C498.9,766.9 508.5,770.1 524.8,773.4 C541,776.8 564.2,781.2 580.3,783.8 C596.3,786.4 610.3,788.2 621.2,789 C632.1,789.7 636.8,789.7 645.5,788.5 C654.2,787.2 668.7,782.8 673.3,781.7" fill="none" stroke="#4C72B0" stroke-width="3.6"/>
<path d="M92.8,645.6 C99.4,646.8 121.4,650.9 132.7,652.9 C144,654.9 151,656.1 160.5,657.5 C170,659 179.4,659.9 189.7,661.7 C200,663.4 211.5,665.7 222.3,667.9 C233.1,670 244.2,672.4 254.5,674.6 C264.8,676.8 273.9,678.7 284.2,680.8 C294.5,683 306,685.7 316.3,687.5 C326.6,689.4 335.7,690 346,691.7 C356.3,693.3 368.6,695.6 378.2,697.4 C387.7,699.1 394.3,700.6 403.5,702 C412.7,703.5 422.9,705.1 433.2,706.2 C443.5,707.3 455,708.2 465.3,708.8 C475.7,709.4 484.7,709.5 495,709.8 C505.4,710.1 516.8,710.6 527.2,710.3 C537.6,710.1 547.1,708.8 557.4,708.2 C567.7,707.7 578.7,708 589,707.2 C599.3,706.4 608.8,704.9 619.2,703.6 C629.6,702.3 641.8,700.5 651.4,699.4 C661,698.4 672.5,697.7 676.7,697.4" fill="none" stroke="#55A868" stroke-width="3.6" stroke-dasharray="15 15.5"/>
<path d="M92.8,678.7 C97.7,679.8 111.4,683.5 122,685 C132.6,686.4 145.3,687.2 156.6,687.5 C167.9,687.9 175.9,687.4 189.7,687 C203.5,686.7 223.1,685.8 239.4,685.5 C255.7,685.1 271.5,685 287.6,685 C303.7,684.9 319.2,684.5 335.8,685 C352.4,685.4 369,686.3 386.9,687.5 C404.9,688.8 423.2,690.7 443.4,692.2 C463.6,693.7 486.7,695 508.2,696.3 C529.7,697.7 554.7,699.5 572.5,700.5 C590.3,701.4 602.4,701.9 614.9,702 C627.4,702.1 637.9,701.7 647.5,701 C657.1,700.3 668.2,698.4 672.3,697.9" fill="none" stroke="#C44E52" stroke-width="3.6"/>
<path d="M92.8,665.8 C97.7,667.4 112.5,673.7 122,675.1 C131.5,676.6 138.5,675.8 149.8,674.6 C161,673.4 174.8,671.8 189.7,667.9 C204.6,663.9 223.1,655.2 239.4,650.8 C255.7,646.4 271.5,643.6 287.6,641.5 C303.7,639.3 320.1,637.5 335.8,637.9 C351.5,638.2 367.5,641.1 382.1,643.6 C396.6,646 409,648.2 423,652.4 C436.9,656.5 451.6,662.3 465.8,668.4 C480,674.5 494,681.8 508.2,689.1 C522.4,696.4 537.2,705 551.1,712.4 C564.9,719.8 579.9,728.5 591.5,733.6 C603,738.7 611.4,740.8 620.2,742.9 C629,745.1 635.4,746.5 644.1,746.5 C652.8,746.6 667.6,744 672.3,743.4" fill="none" stroke="#64B5CD" stroke-width="3.6"/>
<path d="M92.8,657.5 C96.6,658.4 107.2,661.5 115.7,662.7 C124.1,663.9 131.1,664.8 143.4,664.8 C155.8,664.8 173.7,664.3 189.7,662.7 C205.7,661.1 223.1,657 239.4,654.9 C255.7,652.9 271.5,651.4 287.6,650.3 C303.7,649.2 320.1,648.4 335.8,648.2 C351.5,648 367.5,648.2 382.1,649.2 C396.6,650.3 409,652.1 423,654.4 C436.9,656.8 451.6,659.9 465.8,663.2 C480,666.5 494,670.4 508.2,674.1 C522.4,677.8 536.8,681.8 551.1,685.5 C565.3,689.2 579.2,693.8 593.4,696.3 C607.6,698.8 623.1,700.2 636.3,700.5 C649.4,700.7 666.3,698.3 672.3,697.9" fill="none" stroke="#CCB974" stroke-width="3.6"/>
<path d="M92.8,594.4 C99.4,595.2 121.4,597.5 132.7,599 C144,600.6 151,602 160.5,603.7 C170,605.4 179.4,607.4 189.7,609.1 C200,610.8 211.5,612.4 222.3,614.1 C233.1,615.7 244.2,617.6 254.5,619.2 C264.8,620.9 273.9,622.9 284.2,623.9 C294.5,624.9 306,625 316.3,625.4 C326.6,625.9 335.7,626.3 346,626.5 C356.3,626.6 368.3,626.8 378.2,626.5 C388.1,626.1 395.5,625.4 405.4,624.4 C415.3,623.4 427.2,622 437.6,620.3 C448,618.5 457.8,616 467.8,614.1 C477.8,612.2 487.6,611 497.5,608.9 C507.4,606.7 517.2,603.8 527.2,601.1 C537.2,598.4 547.4,595.7 557.4,592.8 C567.4,590 577.2,586.8 587.1,584 C597,581.3 606.8,578.4 616.8,576.3 C626.8,574.2 637.7,572.8 647,571.6 C656.2,570.4 668.1,569.5 672.3,569" fill="none" stroke="#CCB974" stroke-width="3.6" stroke-dasharray="15 15.5"/>
<path d="M92.8,590.8 C99.4,591.7 121.4,594.8 132.7,596.5 C144,598.1 151,599.6 160.5,600.6 C170,601.6 179.4,602.2 189.7,602.7 C200,603.1 211.5,603.1 222.3,603.2 C233.1,603.3 244.2,603.3 254.5,603.2 C264.8,603.1 273.9,602.8 284.2,602.7 C294.5,602.5 306,602.2 316.3,602.2 C326.6,602.2 335.7,602.2 346,602.7 C356.3,603.1 367.9,604.2 378.2,604.7 C388.5,605.3 398,605.3 407.9,605.8 C417.8,606.3 427.6,607.2 437.6,607.8 C447.6,608.5 457.8,608.9 467.8,609.4 C477.8,609.9 487.2,610.3 497.5,611 C507.8,611.6 519,612.4 529.6,613 C540.3,613.6 550.6,614.1 561.3,614.6 C571.9,615.1 582.7,616 593.4,616.1 C604.1,616.2 615.3,615.7 625.6,615.1 C635.9,614.5 646.7,613.2 655.3,612.5 C663.8,611.8 673.1,611.2 676.7,611" fill="none" stroke="#C44E52" stroke-width="3.6" stroke-dasharray="15 15.5"/>
</g>
<line x1="97" y1="898" x2="126.5" y2="898" stroke="#4C72B0" stroke-width="3.8"/>
<text x="135.8" y="903.2" font-size="14.6" fill="#333" stroke="#333" stroke-width="0.2" textLength="68.7" lengthAdjust="spacingAndGlyphs" xml:space="preserve">H3K9me1</text>
<line x1="97" y1="919.5" x2="126.5" y2="919.5" stroke="#55A868" stroke-width="3.8"/>
<text x="135.7" y="924.7" font-size="14.8" fill="#333" stroke="#333" stroke-width="0.2" textLength="20" lengthAdjust="spacingAndGlyphs" xml:space="preserve">H4</text>
<line x1="97" y1="938.5" x2="126.5" y2="938.5" stroke="#C44E52" stroke-width="3.8"/>
<text x="135.8" y="943.7" font-size="14.6" fill="#333" stroke="#333" stroke-width="0.2" textLength="19.7" lengthAdjust="spacingAndGlyphs" xml:space="preserve">H3</text>
<line x1="97" y1="957" x2="126.5" y2="957" stroke="#8172B2" stroke-width="3.8"/>
<text x="135.7" y="962.2" font-size="14.8" fill="#333" stroke="#333" stroke-width="0.2" textLength="20" lengthAdjust="spacingAndGlyphs" xml:space="preserve">H1</text>
<line x1="222" y1="898" x2="251.5" y2="898" stroke="#CCB974" stroke-width="3.8"/>
<text x="260.1" y="903.2" font-size="14.6" fill="#333" stroke="#333" stroke-width="0.2" textLength="68.7" lengthAdjust="spacingAndGlyphs" xml:space="preserve">H3K9me3</text>
<line x1="222" y1="919.5" x2="251.5" y2="919.5" stroke="#64B5CD" stroke-width="3.8"/>
<text x="260.1" y="924.7" font-size="14.6" fill="#333" stroke="#333" stroke-width="0.2" textLength="68.7" lengthAdjust="spacingAndGlyphs" xml:space="preserve">H3K9me2</text>
<line x1="222" y1="938.5" x2="237.5" y2="938.5" stroke="#4C72B0" stroke-width="3.8"/>
<text x="260.1" y="943.7" font-size="14.6" fill="#333" stroke="#333" stroke-width="0.2" textLength="77.3" lengthAdjust="spacingAndGlyphs" xml:space="preserve">H3K27me2</text>
<line x1="222" y1="957" x2="237.5" y2="957" stroke="#55A868" stroke-width="3.8"/>
<text x="260.1" y="962.2" font-size="14.6" fill="#333" stroke="#333" stroke-width="0.2" textLength="63.5" lengthAdjust="spacingAndGlyphs" xml:space="preserve">H3K23ac</text>
<line x1="359" y1="898" x2="374.5" y2="898" stroke="#C44E52" stroke-width="3.8"/>
<text x="384.3" y="903.2" font-size="14.6" fill="#333" stroke="#333" stroke-width="0.2" textLength="77.3" lengthAdjust="spacingAndGlyphs" xml:space="preserve">H3K79me1</text>
<line x1="359" y1="919.5" x2="374.5" y2="919.5" stroke="#8172B2" stroke-width="3.8"/>
<text x="384.3" y="924.7" font-size="14.6" fill="#333" stroke="#333" stroke-width="0.2" textLength="77.3" lengthAdjust="spacingAndGlyphs" xml:space="preserve">H3K27me3</text>
<line x1="359" y1="938.5" x2="374.5" y2="938.5" stroke="#CCB974" stroke-width="3.8"/>
<text x="384.3" y="943.7" font-size="14.6" fill="#333" stroke="#333" stroke-width="0.2" textLength="77.3" lengthAdjust="spacingAndGlyphs" xml:space="preserve">H4K20me1</text>
<text x="0.1" y="543.1" font-size="28.1" fill="#262626" stroke="#262626" stroke-width="0.5" textLength="31.8" lengthAdjust="spacingAndGlyphs" xml:space="preserve">D)</text>
<text x="53.8" y="572.9" font-size="20.7" fill="#262626" stroke="#262626" stroke-width="0.3" textLength="28" lengthAdjust="spacingAndGlyphs" xml:space="preserve">0.1</text>
<text x="53.8" y="619.1" font-size="20.7" fill="#262626" stroke="#262626" stroke-width="0.3" textLength="27.8" lengthAdjust="spacingAndGlyphs" xml:space="preserve">0.0</text>
<text x="45.3" y="665" font-size="20.7" fill="#262626" stroke="#262626" stroke-width="0.3" textLength="36.6" lengthAdjust="spacingAndGlyphs" xml:space="preserve">-0.1</text>
<text x="45.3" y="717.6" font-size="20.7" fill="#262626" stroke="#262626" stroke-width="0.3" textLength="36.7" lengthAdjust="spacingAndGlyphs" xml:space="preserve">-0.2</text>
<text x="45.3" y="770.7" font-size="20.7" fill="#262626" stroke="#262626" stroke-width="0.3" textLength="36.5" lengthAdjust="spacingAndGlyphs" xml:space="preserve">-0.3</text>
<text x="45.4" y="824.9" font-size="20.7" fill="#262626" stroke="#262626" stroke-width="0.3" textLength="36.2" lengthAdjust="spacingAndGlyphs" xml:space="preserve">-0.4</text>
<text x="45.3" y="875.6" font-size="20.7" fill="#262626" stroke="#262626" stroke-width="0.3" textLength="36.5" lengthAdjust="spacingAndGlyphs" xml:space="preserve">-0.5</text>
<text x="45.3" y="931.6" font-size="20.7" fill="#262626" stroke="#262626" stroke-width="0.3" textLength="36.5" lengthAdjust="spacingAndGlyphs" xml:space="preserve">-0.6</text>
<text x="45.3" y="978.9" font-size="20.7" fill="#262626" stroke="#262626" stroke-width="0.3" textLength="36.7" lengthAdjust="spacingAndGlyphs" xml:space="preserve">-0.7</text>
<text x="86.5" y="988.5" font-size="21" fill="#262626" stroke="#262626" stroke-width="0.3" textLength="12.7" lengthAdjust="spacingAndGlyphs" xml:space="preserve">0</text>
<text x="175.5" y="988.5" font-size="21" fill="#262626" stroke="#262626" stroke-width="0.3" textLength="24" lengthAdjust="spacingAndGlyphs" xml:space="preserve">20</text>
<text x="274.5" y="988.5" font-size="21" fill="#262626" stroke="#262626" stroke-width="0.3" textLength="23.3" lengthAdjust="spacingAndGlyphs" xml:space="preserve">40</text>
<text x="373.1" y="988.5" font-size="21" fill="#262626" stroke="#262626" stroke-width="0.3" textLength="24" lengthAdjust="spacingAndGlyphs" xml:space="preserve">60</text>
<text x="471.2" y="988.5" font-size="21" fill="#262626" stroke="#262626" stroke-width="0.3" textLength="23.9" lengthAdjust="spacingAndGlyphs" xml:space="preserve">80</text>
<text x="560.6" y="988.5" font-size="21" fill="#262626" stroke="#262626" stroke-width="0.3" textLength="35.6" lengthAdjust="spacingAndGlyphs" xml:space="preserve">100</text>
<text x="655.3" y="988.5" font-size="21" fill="#262626" stroke="#262626" stroke-width="0.3" textLength="35.6" lengthAdjust="spacingAndGlyphs" xml:space="preserve">120</text>
<text x="311.9" y="1027.5" font-size="29.8" fill="#262626" stroke="#262626" stroke-width="0.5" textLength="153.2" lengthAdjust="spacingAndGlyphs" xml:space="preserve">Coordinates</text>
<text x="698.7" y="552.4" font-size="26.7" fill="#262626" stroke="#262626" stroke-width="0.4" textLength="30.2" lengthAdjust="spacingAndGlyphs" xml:space="preserve">E)</text>
<rect x="766.1" y="583" width="242.9" height="200" fill="#EAEAF2"/>
<line x1="808.4" y1="583" x2="808.4" y2="783" stroke="#fff" stroke-width="2"/>
<line x1="851.9" y1="583" x2="851.9" y2="783" stroke="#fff" stroke-width="2"/>
<line x1="896" y1="583" x2="896" y2="783" stroke="#fff" stroke-width="2"/>
<line x1="939" y1="583" x2="939" y2="783" stroke="#fff" stroke-width="2"/>
<line x1="981.4" y1="583" x2="981.4" y2="783" stroke="#fff" stroke-width="2"/>
<line x1="766.1" y1="605.9" x2="1009" y2="605.9" stroke="#fff" stroke-width="2"/>
<line x1="766.1" y1="650.4" x2="1009" y2="650.4" stroke="#fff" stroke-width="2"/>
<line x1="766.1" y1="695.1" x2="1009" y2="695.1" stroke="#fff" stroke-width="2"/>
<line x1="766.1" y1="739.2" x2="1009" y2="739.2" stroke="#fff" stroke-width="2"/>
<path d="M766.1,660.3 C766.9,659.6 769.2,657 771,656 C772.8,655 775,654.1 776.8,654.2 C778.6,654.3 780.1,655.3 782,656.5 C783.9,657.7 785.4,658.6 787.9,661.4 C790.4,664.2 793.6,668.7 797,673.5 C800.4,678.3 804.3,684.9 808,690.3 C811.7,695.7 815.3,700.8 819,706 C822.7,711.2 826.6,716.7 830.3,721.5 C834,726.3 837.3,730.9 841,735 C844.7,739.1 848.8,743 852.6,746.1 C856.4,749.2 859.9,751.8 864,753.5 C868.1,755.2 873.1,755.9 877.1,756.1 C881.1,756.3 884.3,755.6 888,754.5 C891.7,753.4 895.7,751.5 899.4,749.4 C903.1,747.3 906.7,744.8 910,742 C913.3,739.2 916.1,736.5 919.4,732.7 C922.7,728.9 926.3,723.8 930,719 C933.7,714.2 937.9,709 941.7,703.7 C945.5,698.4 949.3,692.6 953,687 C956.7,681.4 960.7,675.5 964,670.3 C967.3,665.1 970,660.5 973,656 C976,651.5 979.5,646.2 981.8,643.5 C984,640.8 984.8,640.4 986.5,639.5 C988.2,638.6 990.3,638.1 991.9,638 C993.5,637.9 994.7,638.2 996,638.7 C997.3,639.2 998.3,639.8 999.7,640.9 C1001.1,642 1003,643.6 1004.5,645.5 C1006,647.4 1008.2,650.9 1009,652" fill="none" stroke="#3C52A0" stroke-width="2.6"/>
<path d="M772.1,620.1 L783.7,620.1 L777.9,629.3 Z" fill="#E8203F"/>
<path d="M986.7,620.1 L998.3,620.1 L992.5,629.3 Z" fill="#E8203F"/>
<text x="794.8" y="564.3" font-size="26" fill="#262626" stroke="#262626" stroke-width="0.4" textLength="188.2" lengthAdjust="spacingAndGlyphs" xml:space="preserve">Metaprofile  s(n)</text>
<text x="755" y="707.7" font-size="19.1" fill="#262626" stroke="#262626" stroke-width="0.3" textLength="41.2" lengthAdjust="spacingAndGlyphs" transform="rotate(-90 755 707.7)" xml:space="preserve">s(n)</text>
<text x="758.3" y="801.6" font-size="15.8" fill="#262626" stroke="#262626" stroke-width="0.3" textLength="10.3" lengthAdjust="spacingAndGlyphs" xml:space="preserve">0</text>
<text x="1001.2" y="804" font-size="16.1" fill="#262626" stroke="#262626" stroke-width="0.3" textLength="15.9" lengthAdjust="spacingAndGlyphs" xml:space="preserve">N</text>
<line x1="1037.1" y1="684.3" x2="1148.8" y2="684.3" stroke="#000" stroke-width="5.5"/>
<path d="M1147.8,676.8 L1160.3,684.3 L1147.8,691.8 Z" fill="#000"/>
<text x="1082.4" y="672.6" font-size="21.4" fill="#262626" stroke="#262626" stroke-width="0.3" textLength="36.3" lengthAdjust="spacingAndGlyphs" xml:space="preserve">Flip</text>
<rect x="1201.1" y="583" width="242.4" height="200" fill="#EAEAF2"/>
<line x1="1229.3" y1="583" x2="1229.3" y2="783" stroke="#fff" stroke-width="2"/>
<line x1="1272.5" y1="583" x2="1272.5" y2="783" stroke="#fff" stroke-width="2"/>
<line x1="1315.7" y1="583" x2="1315.7" y2="783" stroke="#fff" stroke-width="2"/>
<line x1="1359" y1="583" x2="1359" y2="783" stroke="#fff" stroke-width="2"/>
<line x1="1402.1" y1="583" x2="1402.1" y2="783" stroke="#fff" stroke-width="2"/>
<line x1="1201.1" y1="605.9" x2="1443.5" y2="605.9" stroke="#fff" stroke-width="2"/>
<line x1="1201.1" y1="650.4" x2="1443.5" y2="650.4" stroke="#fff" stroke-width="2"/>
<line x1="1201.1" y1="695.1" x2="1443.5" y2="695.1" stroke="#fff" stroke-width="2"/>
<line x1="1201.1" y1="739.2" x2="1443.5" y2="739.2" stroke="#fff" stroke-width="2"/>
<path d="M1201.1,652 C1201.8,650.9 1204,647.4 1205.6,645.5 C1207.1,643.6 1209,642 1210.4,640.9 C1211.8,639.8 1212.8,639.2 1214.1,638.7 C1215.4,638.2 1216.6,637.9 1218.2,638 C1219.7,638.1 1221.9,638.6 1223.6,639.5 C1225.2,640.4 1226,640.8 1228.2,643.5 C1230.5,646.2 1234.1,651.5 1237,656 C1240,660.5 1242.7,665.1 1246,670.3 C1249.3,675.5 1253.3,681.4 1257,687 C1260.7,692.6 1264.4,698.4 1268.3,703.7 C1272.1,709 1276.2,714.2 1279.9,719 C1283.6,723.8 1287.2,728.9 1290.5,732.7 C1293.8,736.5 1296.6,739.2 1299.9,742 C1303.2,744.8 1306.8,747.3 1310.5,749.4 C1314.1,751.5 1318.1,753.4 1321.9,754.5 C1325.6,755.6 1328.7,756.3 1332.7,756.1 C1336.7,755.9 1341.7,755.2 1345.8,753.5 C1349.9,751.8 1353.4,749.2 1357.2,746.1 C1361,743 1365,739.1 1368.8,735 C1372.5,730.9 1375.8,726.3 1379.4,721.5 C1383.1,716.7 1387,711.2 1390.7,706 C1394.4,700.8 1398,695.7 1401.7,690.3 C1405.3,684.9 1409.3,678.3 1412.7,673.5 C1416,668.7 1419.3,664.2 1421.7,661.4 C1424.2,658.6 1425.8,657.7 1427.6,656.5 C1429.5,655.3 1431,654.3 1432.8,654.2 C1434.7,654.1 1436.8,655 1438.6,656 C1440.4,657 1442.7,659.6 1443.5,660.3" fill="none" stroke="#3C52A0" stroke-width="2.6"/>
<path d="M1212.2,620.1 L1223.8,620.1 L1218,629.3 Z" fill="#E8203F"/>
<path d="M1426.4,620.1 L1438,620.1 L1432.2,629.3 Z" fill="#E8203F"/>
<text x="1188.6" y="564.5" font-size="26" fill="#262626" stroke="#262626" stroke-width="0.4" textLength="280.6" lengthAdjust="spacingAndGlyphs" xml:space="preserve">Flipped Metaprofile  h(n)</text>
<text x="1190.5" y="713.2" font-size="23.5" fill="#262626" stroke="#262626" stroke-width="0.4" textLength="43.7" lengthAdjust="spacingAndGlyphs" transform="rotate(-90 1190.5 713.2)" xml:space="preserve">h(n)</text>
<text x="1195.5" y="804" font-size="17.7" fill="#262626" stroke="#262626" stroke-width="0.3" textLength="10.5" lengthAdjust="spacingAndGlyphs" xml:space="preserve">0</text>
<text x="1438.2" y="804" font-size="16.1" fill="#262626" stroke="#262626" stroke-width="0.3" textLength="15.9" lengthAdjust="spacingAndGlyphs" xml:space="preserve">N</text>
<rect x="1178.4" y="877.1" width="272" height="191.5" fill="#EAEAF2"/>
<line x1="1214.6" y1="877.1" x2="1214.6" y2="1068.6" stroke="#fff" stroke-width="2"/>
<line x1="1251.9" y1="877.1" x2="1251.9" y2="1068.6" stroke="#fff" stroke-width="2"/>
<line x1="1288.2" y1="877.1" x2="1288.2" y2="1068.6" stroke="#fff" stroke-width="2"/>
<line x1="1324.5" y1="877.1" x2="1324.5" y2="1068.6" stroke="#fff" stroke-width="2"/>
<line x1="1361.8" y1="877.1" x2="1361.8" y2="1068.6" stroke="#fff" stroke-width="2"/>
<line x1="1398" y1="877.1" x2="1398" y2="1068.6" stroke="#fff" stroke-width="2"/>
<line x1="1435.3" y1="877.1" x2="1435.3" y2="1068.6" stroke="#fff" stroke-width="2"/>
<line x1="1178.4" y1="903.3" x2="1450.4" y2="903.3" stroke="#fff" stroke-width="2"/>
<line x1="1178.4" y1="931.5" x2="1450.4" y2="931.5" stroke="#fff" stroke-width="2"/>
<line x1="1178.4" y1="959.8" x2="1450.4" y2="959.8" stroke="#fff" stroke-width="2"/>
<line x1="1178.4" y1="1014.2" x2="1450.4" y2="1014.2" stroke="#fff" stroke-width="2"/>
<line x1="1178.4" y1="1042.4" x2="1450.4" y2="1042.4" stroke="#fff" stroke-width="2"/>
<path d="M1198.5,986.6 L1199.5,982.3 L1200.9,980.9 L1202.6,981.1 L1204.2,983.3 L1205.4,987.4 L1206.6,997 L1207.8,1019.2 L1209,1041.4 L1210.6,1054.5 L1212,1057.5 L1213.4,1055.9 L1215.7,1048.4 L1218.7,1037.3 L1222.7,1026.3 L1226.7,1017.2 L1230.8,1008.1 L1234.8,999.1 L1238.8,986.6 L1240.8,977.9 L1243.3,966.8 L1245.9,960.8 L1250.9,959.8 L1253.3,954.7 L1256,948.7 L1260,943.6 L1263,942.6 L1265.4,948.7 L1268,960.8 L1270.7,972.9 L1272.7,976.5 L1274.7,970.8 L1277.1,950.7 L1280.1,932.6 L1283.2,918.4 L1286.2,909.4 L1289.2,905.9 L1293.2,904.3 L1296.5,902.3 L1298.3,912.4 L1301.3,930.5 L1304.9,946.7 L1308.4,959.8 L1311,952.7 L1313.8,934.6 L1317,918.4 L1320.4,909.4 L1323.9,905.3 L1327.5,906.8 L1330.5,912.4 L1333.1,924.5 L1336,936.6 L1339.2,944.6 L1342,944.6 L1344.6,940.6 L1348.7,937.6 L1352.7,937.2 L1356.7,939.6 L1361.8,943.6 L1364.8,950.7 L1367.8,962.8 L1371.4,972.9 L1374.3,966.8 L1377.5,961.8 L1380.9,961.8 L1383.5,966.8 L1385.5,978.9 L1387.2,986.6 L1388.8,993 L1390.4,1005.1 L1392.4,1010.1 L1394.6,1009.5 L1396.4,1003.1 L1398,986.6 L1399.6,976.9 L1401.3,952.7 L1403.7,944.2 L1407.1,942.2 L1410.1,946.7 L1412.5,956.7 L1415.8,962.8 L1419.8,964.8 L1422.6,969.2 L1425.8,973.3 L1428.3,976.5 L1429.5,986.6 Z" fill="#3B55A8" stroke="#3B55A8" stroke-width="2.4" stroke-linejoin="round"/>
<line x1="1177.5" y1="986.6" x2="1450.4" y2="986.6" stroke="#4A64B0" stroke-width="2.2"/>
<text x="1189.2" y="848.6" font-size="25.7" fill="#262626" stroke="#262626" stroke-width="0.4" textLength="259.4" lengthAdjust="spacingAndGlyphs" xml:space="preserve">Epigenetic Signal  y(n)</text>
<text x="1143.2" y="881" font-size="17.2" fill="#262626" stroke="#262626" stroke-width="0.3" textLength="29.9" lengthAdjust="spacingAndGlyphs" xml:space="preserve">0.8</text>
<text x="1157.1" y="986.8" font-size="17.2" fill="#262626" stroke="#262626" stroke-width="0.3" textLength="11.9" lengthAdjust="spacingAndGlyphs" xml:space="preserve">0</text>
<text x="1138.1" y="1069.4" font-size="15.6" fill="#262626" stroke="#262626" stroke-width="0.3" textLength="36.2" lengthAdjust="spacingAndGlyphs" xml:space="preserve">-0.6</text>
<text x="864.3" y="982.3" font-size="29.8" fill="#262626" stroke="#262626" stroke-width="0.5" textLength="113.2" lengthAdjust="spacingAndGlyphs" xml:space="preserve">ChIP-seq</text>
<line x1="1013.1" y1="973" x2="1124.5" y2="973" stroke="#000" stroke-width="5.5"/>
<path d="M1123.5,965.5 L1136,973 L1123.5,980.5 Z" fill="#000"/>
<path d="M1466,684.2 H1503.6 V985 H1466" fill="none" stroke="#000" stroke-width="4.4"/>
<line x1="1503.6" y1="815.5" x2="1722.2" y2="815.5" stroke="#000" stroke-width="4.4"/>
<path d="M1721.2,808 L1734.2,815.5 L1721.2,823 Z" fill="#000"/>
<text x="1548.2" y="800.4" font-size="24.4" fill="#262626" stroke="#262626" stroke-width="0.4" textLength="120.3" lengthAdjust="spacingAndGlyphs" xml:space="preserve">Convolution</text>
<rect x="1812.9" y="701.9" width="284.4" height="200.1" fill="#EAEAF2"/>
<line x1="1850.9" y1="701.9" x2="1850.9" y2="902" stroke="#fff" stroke-width="2"/>
<line x1="1889.9" y1="701.9" x2="1889.9" y2="902" stroke="#fff" stroke-width="2"/>
<line x1="1928" y1="701.9" x2="1928" y2="902" stroke="#fff" stroke-width="2"/>
<line x1="1967" y1="701.9" x2="1967" y2="902" stroke="#fff" stroke-width="2"/>
<line x1="2005" y1="701.9" x2="2005" y2="902" stroke="#fff" stroke-width="2"/>
<line x1="2044.1" y1="701.9" x2="2044.1" y2="902" stroke="#fff" stroke-width="2"/>
<line x1="2083.1" y1="701.9" x2="2083.1" y2="902" stroke="#fff" stroke-width="2"/>
<line x1="1812.9" y1="735.2" x2="2097.3" y2="735.2" stroke="#fff" stroke-width="2"/>
<line x1="1812.9" y1="769.5" x2="2097.3" y2="769.5" stroke="#fff" stroke-width="2"/>
<line x1="1812.9" y1="803.7" x2="2097.3" y2="803.7" stroke="#fff" stroke-width="2"/>
<line x1="1812.9" y1="836.6" x2="2097.3" y2="836.6" stroke="#fff" stroke-width="2"/>
<line x1="1812.9" y1="871.3" x2="2097.3" y2="871.3" stroke="#fff" stroke-width="2"/>
<path d="M1812.9,836.6 L1836.1,836.6 L1837.2,848.4 L1837.6,876 C1838.7,876.3 1841.9,877.9 1844.3,877.9 C1846.6,877.9 1849.2,877.1 1851.9,876 C1854.6,875 1857.9,872.8 1860.4,871.6 C1863,870.5 1865.3,870.5 1867.1,869 C1868.9,867.5 1869.8,866.8 1871.3,862.7 C1872.7,858.6 1874.1,850.4 1875.7,844.6 C1877.2,838.8 1878.7,832.3 1880.4,827.9 C1882.2,823.4 1884.1,821.1 1886.1,818 C1888.2,814.9 1890.6,813.5 1892.8,809.4 C1895,805.3 1897.1,799.6 1899.4,793.2 C1901.8,786.9 1904.8,777.4 1907.1,771.4 C1909.3,765.3 1911,760.3 1912.8,757.1 C1914.5,753.9 1915.9,752.6 1917.5,752.3 C1919.1,752.1 1920.2,753.6 1922.3,755.6 C1924.3,757.6 1927.7,764.4 1929.9,764.3 C1932.1,764.3 1933.4,760.2 1935.6,755.2 C1937.8,750.2 1941,739 1943.2,734.3 C1945.4,729.5 1947,727.2 1948.9,726.6 C1950.8,726.1 1952.7,728 1954.6,730.8 C1956.5,733.7 1958.4,740.1 1960.3,743.8 C1962.2,747.4 1964.1,751.6 1966,752.9 C1967.9,754.2 1969.8,753 1971.8,751.8 C1973.7,750.6 1975.7,747 1977.5,745.7 C1979.2,744.3 1980.5,742.8 1982.2,743.8 C1984,744.7 1986,747.9 1987.9,751.4 C1989.8,754.9 1991.9,760.7 1993.6,764.7 C1995.4,768.7 1996.3,772 1998.4,775.2 C2000.5,778.3 2003.8,780.7 2006,783.7 C2008.2,786.8 2009.8,789.8 2011.7,793.6 C2013.6,797.4 2015.5,803.2 2017.4,806.6 C2019.3,809.9 2020.9,813 2023.1,813.8 C2025.4,814.6 2028.2,812.4 2030.7,811.3 C2033.3,810.3 2036.1,807.9 2038.4,807.5 C2040.6,807.1 2042.2,807.6 2044.1,808.8 C2046,810.1 2047.7,813 2049.8,815.1 C2051.8,817.2 2054.2,821.4 2056.4,821.4 C2058.7,821.4 2061,817.1 2063.1,815.1 C2065.2,813.1 2067.7,809.9 2069.2,809.4 C2070.7,808.9 2071.7,811.8 2072.2,812.3 L2073.4,833.2 L2074.1,836.6 L2095.8,836.6" fill="none" stroke="#3B55A8" stroke-width="4.8" stroke-linejoin="round"/>
<text x="1821.8" y="687.1" font-size="26" fill="#262626" stroke="#262626" stroke-width="0.4" textLength="280.8" lengthAdjust="spacingAndGlyphs" xml:space="preserve">Matched filter score  r(n)</text>
<text x="1786.8" y="709.7" font-size="19.2" fill="#262626" stroke="#262626" stroke-width="0.3" textLength="24.3" lengthAdjust="spacingAndGlyphs" xml:space="preserve">40</text>
<text x="1786.1" y="780.8" font-size="19.2" fill="#262626" stroke="#262626" stroke-width="0.3" textLength="25" lengthAdjust="spacingAndGlyphs" xml:space="preserve">20</text>
<text x="1798.8" y="842.4" font-size="19.2" fill="#262626" stroke="#262626" stroke-width="0.3" textLength="12.2" lengthAdjust="spacingAndGlyphs" xml:space="preserve">0</text>
<text x="1779.9" y="911.4" font-size="19.2" fill="#262626" stroke="#262626" stroke-width="0.3" textLength="31" lengthAdjust="spacingAndGlyphs" xml:space="preserve">-20</text>
<text x="1779" y="827.3" font-size="19" fill="#262626" stroke="#262626" stroke-width="0.3" textLength="33.1" lengthAdjust="spacingAndGlyphs" transform="rotate(-90 1779 827.3)" xml:space="preserve">r(n)</text>
</svg>
</body></html>
